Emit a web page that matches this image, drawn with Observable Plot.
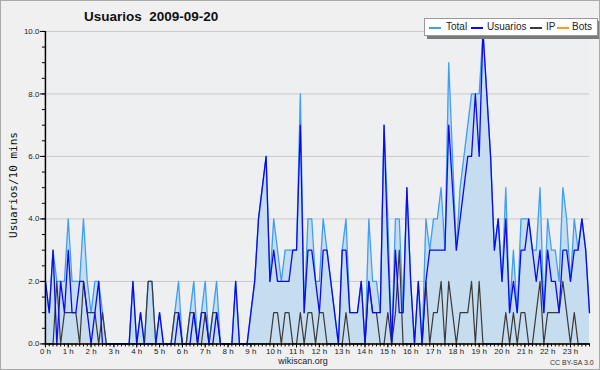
<!DOCTYPE html>
<html><head><meta charset="utf-8">
<script src="https://cdn.jsdelivr.net/npm/d3@7"></script>
<script src="https://cdn.jsdelivr.net/npm/@observablehq/plot@0.6"></script>
<style>
html,body{margin:0;padding:0;background:#f0f0f0;}
#wrap{position:relative;width:600px;height:370px;box-sizing:border-box;border:1px solid #a9a9a9;background:#f0f0f0;font-family:"Liberation Sans",Arial,sans-serif;overflow:hidden;}
#chart{position:absolute;left:-1px;top:-1px;}
.abs{position:absolute;white-space:nowrap;line-height:1;}
#title{left:83px;top:9px;font-weight:bold;font-size:13.5px;color:#111;}
#legend{left:423px;top:17px;width:172px;height:16px;background:#fff;border:1px solid #999;box-shadow:3px 3px 0 #7a7a7a;}
#legend .sw{position:absolute;top:8px;width:12px;height:1.5px;}
#legend .lb{position:absolute;top:3px;font-size:10px;color:#222;}
#ylabel{left:12px;top:184px;font-family:"DejaVu Sans Mono",monospace;font-size:11px;color:#111;transform:translate(-50%,-50%) rotate(-90deg);}
#footer{left:302px;top:356px;font-size:9px;color:#222;transform:translateX(-50%);}
#cc{left:549px;top:358px;font-size:7px;color:#333;}
</style></head><body>
<div id="wrap">
  <div id="chart"></div>
  <div id="title" class="abs">Usuarios&nbsp;&nbsp;2009-09-20</div>
  <div id="legend" class="abs"></div>
  <div id="ylabel" class="abs">Usuarios/10 mins</div>
  <div id="footer" class="abs">wikiscan.org</div>
  <div id="cc" class="abs">CC BY-SA 3.0</div>
</div>
<script>
// 144 ten-minute slots (0 h .. 23 h 50)
const usuarios = [2,1,3,0,2,1,3,1,1,2,2,1,0,1,2,0,0,0,0,0,0,0,0,2,0,1,0,0,0,0,
  1,0,0,0,0,1,0,0,0,1,0,1,1,0,0,1,0,0,0,0,2,0,0,0,1,2,4,5,6,2,
  3,2,2,2,2,3,3,7,1,3,3,2,1,3,3,2,1,0,3,3,1,1,1,2,0,2,1,1,1,7,
  3,0,3,1,1,5,2,0,2,0,2,3,3,3,3,3,7,5,3,4,5,6,6,8,6,10,8,6,3,4,
  2,4,1,2,1,3,3,4,3,2,3,1,3,2,2,1,3,3,2,3,3,4,3,1];
const ip = [0,0,0,2,0,1,1,1,1,0,2,1,1,1,0,1,0,0,0,0,0,0,0,0,0,0,0,2,2,0,
  0,0,0,0,1,1,0,0,1,1,0,0,1,0,1,1,0,0,0,0,0,0,0,0,0,0,0,0,0,0,
  1,1,0,1,1,0,0,1,0,1,1,0,1,1,0,0,0,0,0,1,0,0,0,0,0,2,1,1,0,0,
  1,0,1,3,0,0,0,0,0,0,2,0,1,1,2,0,2,1,0,1,1,1,2,0,2,0,0,0,0,0,
  0,1,0,1,0,1,1,0,0,1,2,0,1,1,1,1,2,1,0,1,0,0,0,0];
const total = [2,1,3,2,2,2,4,2,2,2,4,2,1,2,2,1,0,0,0,0,0,0,0,2,0,1,0,2,2,0,
  1,0,0,0,1,2,0,0,1,2,0,1,2,0,1,2,0,0,0,0,2,0,0,0,1,2,4,5,6,2,
  4,3,2,3,3,3,3,8,1,4,4,2,2,4,3,2,1,0,3,4,1,1,1,2,0,4,2,2,1,7,
  4,0,4,4,1,5,2,0,2,0,4,3,4,4,5,3,9,6,3,5,6,7,8,8,8,10,8,6,3,4,
  2,5,1,3,1,4,4,4,3,3,5,1,4,3,3,2,5,4,2,4,3,4,3,1];
const bots = [0,0,0,0,0,0,0,0,0,0,0,0,0,0,0,0,0,0,0,0,0,0,0,0,0,0,0,0,0,0,
  0,0,0,0,0,0,0,0,0,0,0,0,0,0,0,0,0,0,0,0,0,0,0,0,0,0,0,0,0,0,
  0,0,0,0,0,0,0,0,0,0,0,0,0,0,0,0,0,0,0,0,0,0,0,0,0,0,0,0,0,0,
  0,0,0,0,0,0,0,0,0,0,0,0,0,0,0,0,0,0,0,0,0,0,0,0,0,0,0,0,0,0,
  0,0,0,0,0,0,0,0,0,0,0,0,0,0,0,0,0,0,0,0,0,0,0,0];
const hourLabels = ["0 h","1 h","2 h","3 h","4 h","5 h","6 h","7 h","8 h","9 h","10 h","11 h",
  "12 h","13 h","14 h","15 h","16 h","17 h","18 h","19 h","20 h","21 h","22 h","23 h"];
const yTicks = [0,2,4,6,8,10];
const seriesNames = ["Total","Usuarios","IP","Bots"];
const seriesColors = ["#3f9ef5","#0a0af0","#3a3a3a","#ff9a1a"];

const slots = d3.range(usuarios.length);
const hourSlots = hourLabels.map((_, h) => h * 6);
const ySub = d3.range(0, 10.01, 0.5);

const chart = Plot.plot({
  width: 600, height: 370,
  marginLeft: 45, marginRight: 10, marginTop: 31, marginBottom: 26,
  x: {domain: [0, 143]},
  y: {domain: [0, 10]},
  style: {background: "transparent", fontFamily: "Liberation Sans, Arial, sans-serif", fontSize: "8px", color: "#222"},
  marks: [
    Plot.frame({fill: "#eeeff1", stroke: null}),
    Plot.ruleY(yTicks.filter(d => d > 0), {stroke: "#c9c9c9", strokeWidth: 1}),
    Plot.areaY(slots, {x: i => i, y: i => total[i], fill: "#c6dcef", curve: "linear"}),
    Plot.line(slots, {x: i => i, y: i => bots[i], stroke: seriesColors[3], strokeWidth: 1.2}),
    Plot.line(slots, {x: i => i, y: i => total[i], stroke: seriesColors[0], strokeWidth: 1.3}),
    Plot.line(slots, {x: i => i, y: i => ip[i], stroke: seriesColors[2], strokeWidth: 1.2}),
    Plot.line(slots, {x: i => i, y: i => usuarios[i], stroke: seriesColors[1], strokeWidth: 1.3}),
    Plot.axisY({ticks: ySub, tickFormat: () => "", tickSize: 3, stroke: "#000"}),
    Plot.axisY({ticks: yTicks, tickFormat: d3.format(".1f"), tickSize: 5, tickPadding: 1, label: null, stroke: "#000", fill: "#222"}),
    Plot.axisX({ticks: slots, tickFormat: () => "", tickSize: 3, stroke: "#000", label: null}),
    Plot.axisX({ticks: hourSlots, tickFormat: (d, i) => hourLabels[i], tickSize: 4, tickPadding: 0, stroke: "#000", fill: "#222", label: null}),
    Plot.ruleX([0], {stroke: "#000", strokeWidth: 1.5}),
    Plot.ruleY([0], {stroke: "#000", strokeWidth: 1.5})
  ]
});
document.getElementById("chart").appendChild(chart);

// legend
const lg = document.getElementById("legend");
const swX = [4, 46, 105, 132];
const lbX = [21, 62, 121, 147];
seriesNames.forEach((n, k) => {
  const s = document.createElement("div");
  s.className = "sw"; s.style.left = swX[k] + "px"; s.style.background = seriesColors[k];
  lg.appendChild(s);
  const t = document.createElement("div");
  t.className = "lb"; t.style.left = lbX[k] + "px"; t.textContent = n;
  lg.appendChild(t);
});
</script>
</body></html>
